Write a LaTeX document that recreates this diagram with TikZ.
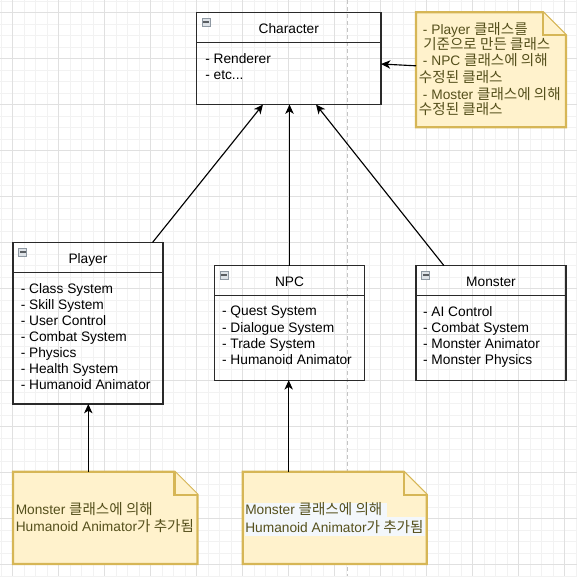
\documentclass[tikz,border=0pt]{standalone}
\usepackage{fontspec}
\setmainfont{Liberation Sans}
\newfontfamily\krfont[Scale=1.06]{Noto Sans CJK KR}
\usetikzlibrary{arrows.meta,calc}
\definecolor{notefill}{HTML}{FFF2CC}
\definecolor{noteline}{HTML}{D6B656}
\definecolor{notetext}{HTML}{55501C}
\definecolor{gminor}{HTML}{F2F2F2}
\definecolor{gmajor}{HTML}{E0E0E0}
\definecolor{pageline}{HTML}{C4C4C4}
\definecolor{boxline}{HTML}{2A2A2A}
\definecolor{hlcol}{HTML}{F3F7FB}
\definecolor{iconborder}{HTML}{8E98A2}
\definecolor{iconfill}{HTML}{DDE2E7}
\definecolor{icondark}{HTML}{5A5E62}
\newcommand\kr[1]{{\krfont #1}}
\newcommand\classicon[1]{%
  \draw[draw=iconborder,fill=iconfill,line width=0.75pt] ($(#1.north west)+(5.5,5.5)$) rectangle ($(#1.north west)+(13.5,13.5)$);
  \fill[icondark] ($(#1.north west)+(6.5,8.5)$) rectangle ($(#1.north west)+(12.5,10.5)$);}
\newcommand\classsepline[1]{%
  \draw[draw=boxline,line width=0.85pt] ($(#1.north west)+(0,30)$) -- ($(#1.north east)+(0,30)$);}
\newcommand\notepath[1]{%
  \draw[notestyle] (#1.north west) -- ($(#1.north east)+(-23,0)$) -- ($(#1.north east)+(0,23)$) -- (#1.south east) -- (#1.south west) -- cycle;
  \draw[notestyle] ($(#1.north east)+(-23,0)$) -- ($(#1.north east)+(-23,23)$) -- ($(#1.north east)+(0,23)$);}
\begin{document}
\begin{tikzpicture}[x=0.75pt,y=-0.75pt,
  every node/.style={font=\fontsize{10.3pt}{12pt}\selectfont},
  gminorst/.style={draw=gminor,line width=0.75pt},
  gmajorst/.style={draw=gmajor,line width=0.75pt},
  classbox/.style={rectangle,draw=boxline,line width=0.85pt,inner sep=0pt,outer sep=0pt,anchor=north west},
  notearea/.style={rectangle,inner sep=0pt,outer sep=0pt,anchor=north west},
  notestyle/.style={draw=noteline,fill=notefill,line width=1.7pt,line join=miter},
  titletext/.style={anchor=base,inner sep=0pt,text=black},
  bodytext/.style={anchor=base west,inner sep=0pt,text=black},
  notetxt/.style={anchor=base west,inner sep=0pt,text=notetext},
  conn/.style={draw=black,line width=0.85pt,-{Stealth[length=7pt,width=6.3pt,inset=2pt]}}
]
\useasboundingbox (0,0) rectangle (577,576);
\fill[white] (0,0) rectangle (577,576);
% grid
\foreach \i in {0,...,50} {
  \draw[gminorst] ({1+11.5*\i},0) -- ({1+11.5*\i},576);
  \draw[gminorst] (0,{1+11.5*\i}) -- (577,{1+11.5*\i});
}
\foreach \i in {0,...,12} {
  \draw[gmajorst] ({12.5+46*\i},0) -- ({12.5+46*\i},576);
  \draw[gmajorst] (0,{12.5+46*\i}) -- (577,{12.5+46*\i});
}
\draw[draw=pageline,line width=0.75pt,dash pattern=on 3pt off 2.25pt] (347.5,0) -- (347.5,576);

% class boxes
\node[classbox,minimum width={184.5*0.75pt},minimum height={92*0.75pt}] (char) at (196.5,12.5) {};
\node[classbox,minimum width={150*0.75pt},minimum height={161.5*0.75pt}] (player) at (13,242.5) {};
\node[classbox,minimum width={150*0.75pt},minimum height={114.5*0.75pt}] (npc) at (214.5,265.7) {};
\node[classbox,minimum width={150*0.75pt},minimum height={114.5*0.75pt}] (monster) at (416,265.7) {};
\classsepline{char}\classsepline{player}\classsepline{npc}\classsepline{monster}
\classicon{char}\classicon{player}\classicon{npc}\classicon{monster}

% notes
\node[notearea,minimum width={150*0.75pt},minimum height={115*0.75pt}] (ntr) at (416,12.3) {};
\node[notearea,minimum width={184.5*0.75pt},minimum height={92.3*0.75pt}] (n1) at (13,471.7) {};
\node[notearea,minimum width={184*0.75pt},minimum height={92.3*0.75pt}] (n2) at (242.7,471.7) {};
\notepath{ntr}\notepath{n1}\notepath{n2}

% connectors
\draw[conn] ($(player.north west)+(139.5,0)$) -- ($(char.south west)+(66.5,0)$);
\draw[conn] (npc.north) -- (npc.north |- char.south);
\draw[conn] ($(monster.north west)+(28,0)$) -- ($(char.south west)+(119.5,0)$);
\draw[conn] ($(ntr.north west)+(0,53.5)$) -- ($(char.north east)+(0,51.5)$);
\coordinate (n1top) at ($(n1.north west)+(75.3,0)$);
\coordinate (n2top) at ($(n2.north west)+(46,0)$);
\draw[conn] (n1top) -- (n1top |- player.south);
\draw[conn] (n2top) -- (n2top |- npc.south);

% titles
\node[titletext] (chart) at ($(char.north)+(0,20.5)$) {Character};
\node[titletext] (plt) at ($(player.north)+(0,20.5)$) {Player};
\node[titletext] (npct) at ($(npc.north)+(0,20.3)$) {NPC};
\node[titletext] (mot) at ($(monster.north)+(0,20.3)$) {Monster};

% bodies
\foreach \t [count=\i] in {{- Renderer},{- etc{.}{.}{.}}}
  \node[bodytext] (cb\i) at ($(char.north west)+(8.5,{50.5+16.1*(\i-1)})$) {\t};
\foreach \t [count=\i] in {{- Class System},{- Skill System},{- User Control},{- Combat System},{- Physics},{- Health System},{- Humanoid Animator}}
  \node[bodytext] (pb\i) at ($(player.north west)+(7.5,{50.5+16.1*(\i-1)})$) {\t};
\foreach \t [count=\i] in {{- Quest System},{- Dialogue System},{- Trade System},{- Humanoid Animator}}
  \node[bodytext] (nb\i) at ($(npc.north west)+(7.3,{50.2+16.1*(\i-1)})$) {\t};
\foreach \t [count=\i] in {{- AI Control},{- Combat System},{- Monster Animator},{- Monster Physics}}
  \node[bodytext] (mb\i) at ($(monster.north west)+(6.8,{50.5+16.1*(\i-1)})$) {\t};

% top-right note text
\node[notetxt] (t1) at (422.7,34) {- Player \kr{클래스를}};
\node[notetxt] (t2) at (423,49.7) {\kr{기준으로 만든 클래스}};
\node[notetxt] (t3) at (422.7,65.9) {- NPC \kr{클래스에 의해}};
\node[notetxt] (t4) at (418.7,82.1) {\kr{수정된 클래스}};
\node[notetxt] (t5) at (422.7,99.3) {- Moster \kr{클래스에 의해}};
\node[notetxt] (t6) at (418.7,114.5) {\kr{수정된 클래스}};

% bottom notes text
\node[notetxt] (a1) at (15.5,514.2) {Monster \kr{클래스에 의해}};
\node[notetxt] (a2) at (15.5,531.8) {Humanoid Animator\kr{가 추가됨}};
\fill[hlcol] (245,502.7) rectangle (386.7,516.7);
\fill[hlcol] (245,516.7) rectangle (425,535.7);
\node[notetxt] (b1) at (245,514.8) {Monster \kr{클래스에 의해}};
\node[notetxt] (b2) at (245,532.2) {Humanoid Animator\kr{가 추가됨}};
\end{tikzpicture}
\end{document}
